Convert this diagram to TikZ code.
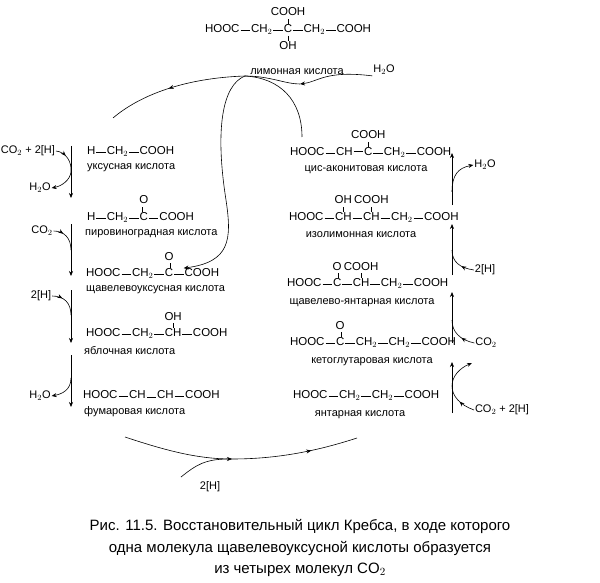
\documentclass[tikz,border=0pt]{standalone}
\usepackage{fontspec}
\setmainfont{Liberation Sans}
\usetikzlibrary{positioning, arrows.meta, decorations.markings}

\tikzset{
  grp/.style = {inner sep=0.8pt, text height=1.45ex, text depth=0.4ex, font=\fontsize{11.5}{13}\selectfont},
  rgt/.style = {grp, font=\fontsize{11}{13}\selectfont},
  lbl/.style = {inner sep=0pt, font=\fontsize{11}{13}\selectfont},
  bond/.style = {line width=0.6pt},
  dblbond/.style = {line width=0.5pt, double, double distance=2pt},
  rxn/.style = {line width=0.6pt, -{Stealth[length=5pt,width=4pt]}},
  side/.style = {line width=0.6pt},
  midarr/.style = {postaction={decorate}, decoration={markings, mark=at position #1 with {\arrow{Stealth[length=5pt,width=4pt]}}}},
}

% chain of groups joined by bonds
\newcommand\chain[3]{%
  \foreach \t [count=\i, remember=\i as \j (initially 0)] in {#3} {
    \ifnum\i=1 \node[grp, anchor=west] (#1-1) at (#2) {\t};
    \else \node[grp, right=9.5pt of #1-\j] (#1-\i) {\t}; \draw[bond] (#1-\j) -- (#1-\i);
    \fi }}
\newcommand\subst[3]{% chain node, name, text
  \node[grp, above=5pt of #1] (#2) {#3}; \draw[bond] (#1) -- (#2);}
\newcommand\substd[3]{% double bonded O
  \node[grp, above=5pt of #1] (#2) {#3}; \draw[dblbond] (#1) -- (#2);}

\begin{document}
\begin{tikzpicture}[x=1pt, y=-1pt]
  \useasboundingbox (0,0) rectangle (600,583);

  % citric acid
  \chain{cit}{204,30}{HOOC, CH$_2$, C, CH$_2$, COOH}
  \subst{cit-3}{citU}{COOH}
  \node[grp, below=5pt of cit-3] (citD) {OH}; \draw[bond] (cit-3) -- (citD);
  \node[lbl] (citL) at (297,72) {лимонная кислота};
  \node[rgt] (h2oT) at (384,70) {H$_2$O};

  % left column
  \chain{ac}{86,152}{H, CH$_2$, COOH}
  \node[lbl, anchor=west] (acL) at (87,168) {уксусная кислота};
  \chain{pyr}{86,218}{H, CH$_2$, C, COOH}
  \substd{pyr-3}{pyrO}{O}
  \node[lbl, anchor=west] (pyrL) at (85,234) {пировиноградная кислота};
  \chain{oxa}{85,274}{HOOC, CH$_2$, C, COOH}
  \substd{oxa-3}{oxaO}{O}
  \node[lbl, anchor=west] (oxaL) at (86,290) {щавелевоуксусная кислота};
  \chain{mal}{85,334}{HOOC, CH$_2$, CH, COOH}
  \subst{mal-3}{malU}{OH}
  \node[lbl, anchor=west] (malL) at (84,351) {яблочная кислота};
  \chain{fum}{82,396}{HOOC, CH, CH, COOH}
  \draw[dblbond] (fum-2) -- (fum-3);
  \node[lbl, anchor=west] (fumL) at (84,412) {фумаровая кислота};

  % right column
  \chain{cis}{289,153}{HOOC, CH, C, CH$_2$, COOH}
  \draw[dblbond] (cis-2) -- (cis-3);
  \subst{cis-3}{cisU}{COOH}
  \node[lbl] (cisL) at (366,170) {цис-аконитовая кислота};
  \chain{iso}{288,218}{HOOC, CH, CH, CH$_2$, COOH}
  \subst{iso-2}{isoU}{OH}
  \subst{iso-3}{isoV}{COOH}
  \node[lbl] (isoL) at (361,235) {изолимонная кислота};
  \chain{osu}{286,284}{HOOC, C, CH, CH$_2$, COOH}
  \substd{osu-2}{osuO}{O}
  \subst{osu-3}{osuU}{COOH}
  \node[lbl] (osuL) at (362,303) {щавелево-янтарная кислота};
  \chain{keg}{289,343}{HOOC, C, CH$_2$, CH$_2$, COOH}
  \substd{keg-2}{kegO}{O}
  \node[lbl] (kegL) at (372,362) {кетоглутаровая кислота};
  \chain{suc}{292,396}{HOOC, CH$_2$, CH$_2$, COOH}
  \node[lbl] (sucL) at (360,415) {янтарная кислота};

  % side reagents
  \node[rgt, anchor=west] (l1) at (0,151) {CO$_2$ + 2[H]};
  \node[rgt] (l2) at (40,188) {H$_2$O};
  \node[rgt] (l3) at (42,231) {CO$_2$};
  \node[rgt] (l4) at (41,296) {2[H]};
  \node[rgt] (l5) at (40,396) {H$_2$O};
  \node[rgt] (r1) at (485,165) {H$_2$O};
  \node[rgt] (r2) at (485,270) {2[H]};
  \node[rgt] (r3) at (486,343) {CO$_2$};
  \node[rgt, anchor=west] (r4) at (474,410) {CO$_2$ + 2[H]};
  \node[rgt] (b1) at (210,487) {2[H]};

  % vertical reaction arrows
  \foreach \n/\a/\b in {v1/146/198, v2/224/276, v3/290/343, v4/355/407} {
    \coordinate (\n s) at (71,\a); \coordinate (\n e) at (71,\b);
    \draw[rxn] (\n s) -- (\n e); }
  \foreach \n/\a/\b in {w1/205/153, w2/275/224, w3/343/292, w4/413/362} {
    \coordinate (\n s) at (452,\a); \coordinate (\n e) at (452,\b);
    \draw[rxn] (\n s) -- (\n e); }

  % side arrows, left
  \draw[side, midarr=0.2, -{Stealth[length=5pt,width=4pt]}] (l1.east) .. controls (66,152) and (72,162) .. (71,172) .. controls (70,180) and (62,186) .. (l2.east);
  \draw[side, midarr=0.35] (l3.east) .. controls (64,231) and (71,238) .. (71,250);
  \draw[side, midarr=0.35] (l4.east) .. controls (64,296) and (71,303) .. (71,315);
  \draw[side, -{Stealth[length=5pt,width=4pt]}] (71,378) .. controls (71,390) and (62,394) .. (l5.east);

  % side arrows, right
  \draw[side, -{Stealth[length=5pt,width=4pt]}] (452,192) .. controls (452,175) and (458,168) .. (r1.west);
  \draw[side, midarr=0.4] (r2.west) .. controls (460,268) and (452,262) .. (452,250);
  \draw[side, midarr=0.4] (r3.west) .. controls (460,340) and (452,332) .. (452,320);
  \draw[side, midarr=0.25, -{Stealth[length=5pt,width=4pt]}] (r4.west) .. controls (460,405) and (452,396) .. (452,386) .. controls (452,376) and (460,368) .. (472,363);

  % big cycle arrows
  \coordinate (tm) at (245,76);
  \coordinate (t0) at (113,118);
  \coordinate (tj) at (300,84);
  \draw[side, midarr=0.55] (tm) .. controls (185,78) and (140,95) .. (t0);
  \draw[side] (tm) .. controls (270,76) and (285,84) .. (tj);
  \draw[side, -{Stealth[length=5pt,width=4pt]}] (h2oT.south west) .. controls (325,70) and (318,82) .. (tj);
  \coordinate (cs) at (302,137);
  \draw[side] (cs) .. controls (302,100) and (280,78) .. (tm);
  \draw[side, -{Stealth[length=5pt,width=4pt]}] (tm) .. controls (222,85) and (215,130) .. (226,200) .. controls (232,240) and (230,262) .. (oxa-4.north west);
  \coordinate (bs) at (125,437);
  \coordinate (bm) at (232,459);
  \coordinate (be) at (357,438);
  \draw[side, midarr=0.8] (bs) .. controls (170,452) and (200,459) .. (bm) .. controls (280,459) and (320,450) .. (be);
  \draw[side, -{Stealth[length=5pt,width=4pt]}] (b1.north west) ++(-18,-4) .. controls (196,465) and (205,459) .. (bm);

  % caption
  \node[align=center, font=\fontsize{15}{21.5}\selectfont] (cap) at (300,548)
    {Рис. 11.5. Восстановительный цикл Кребса, в ходе которого\\
     одна молекула щавелевоуксусной кислоты образуется\\
     из четырех молекул CO$_2$};
\end{tikzpicture}
\end{document}
